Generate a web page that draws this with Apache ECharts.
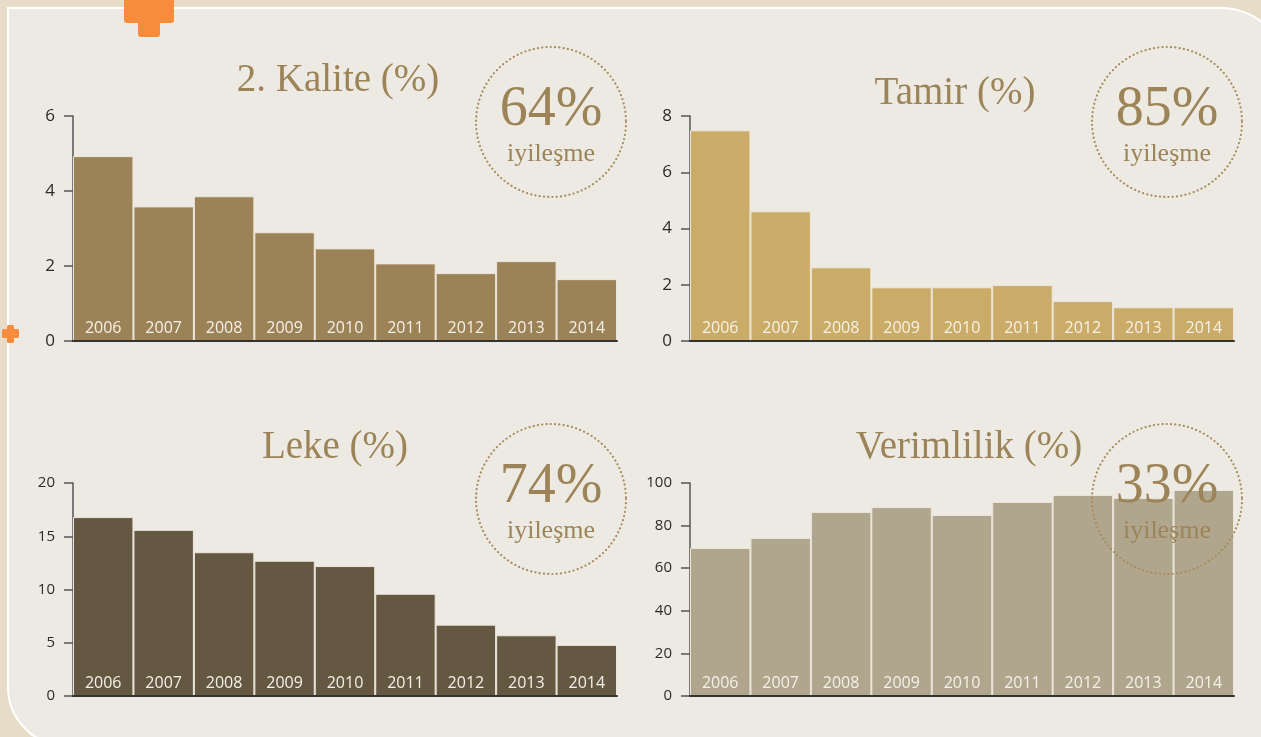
<!DOCTYPE html>
<html>
<head>
<meta charset="utf-8">
<script src="https://cdn.jsdelivr.net/npm/echarts@6/dist/echarts.min.js"></script>
<style>
  html, body { margin: 0; padding: 0; width: 1261px; height: 737px; overflow: hidden; background: #e6dcc8; }
  #panel {
    position: absolute; left: 7px; top: 7px; width: 1283px; height: 740px;
    background: #edeae3; border: 2px solid #ffffff; box-sizing: border-box;
    border-top-right-radius: 70px; border-bottom-left-radius: 60px;
  }
  #chart { position: absolute; left: 0; top: 0; width: 1261px; height: 737px; }
</style>
</head>
<body>
<div id="panel"></div>
<div id="chart"></div>
<script>
var years = ['2006', '2007', '2008', '2009', '2010', '2011', '2012', '2013', '2014'];

var kalite = [4.93, 3.59, 3.86, 2.90, 2.47, 2.07, 1.81, 2.13, 1.65];
var tamir = [7.49, 4.61, 2.62, 1.91, 1.91, 1.99, 1.42, 1.20, 1.20];
var leke = [16.8, 15.6, 13.5, 12.7, 12.2, 9.6, 6.7, 5.7, 4.8];
var verimlilik = [69.5, 74.2, 86.4, 88.7, 85.0, 91.1, 94.4, 93.0, 96.7];

var titles = ['2. Kalite (%)', 'Tamir (%)', 'Leke (%)', 'Verimlilik (%)'];
var improvements = ['64%', '85%', '74%', '33%'];
var improveWord = 'iyileşme';

var axisMax = [6, 8, 20, 100];
var axisStep = [2, 2, 5, 20];

var barColors = ['#9c8257', '#caac68', '#645842', '#b0a68d'];
var brown = '#9c8458';
var orange = '#f78c3c';

// layout of the four small charts
var panels = [
    { left: 73, top: 116, titleX: 338, titleY: 100, cx: 551, cy: 122, tickFont: 17 },
    { left: 690, top: 116, titleX: 955, titleY: 113, cx: 1167, cy: 122, tickFont: 17 },
    { left: 73, top: 483, titleX: 335, titleY: 467, cx: 551, cy: 499, tickFont: 15 },
    { left: 690, top: 483, titleX: 969, titleY: 467, cx: 1167, cy: 499, tickFont: 15 }
];
var gridWidth = 544;
var gridHeights = [225, 225, 213, 213];
var seriesData = [kalite, tamir, leke, verimlilik];

var chart = echarts.init(document.getElementById('chart'));

var grids = [], xAxes = [], yAxes = [], series = [], graphics = [];

panels.forEach(function (p, i) {
    grids.push({ left: p.left, top: p.top, width: gridWidth, height: gridHeights[i], containLabel: false });
    xAxes.push({
        type: 'category', gridIndex: i, data: years, z: 5,
        axisLine: { show: true, lineStyle: { color: '#333', width: 2 } },
        axisTick: { show: false }, axisLabel: { show: false }
    });
    yAxes.push({
        type: 'value', gridIndex: i, min: 0, max: axisMax[i], interval: axisStep[i],
        axisLine: { show: true, lineStyle: { color: '#555', width: 1.5 } },
        axisTick: { show: true, length: 9, lineStyle: { color: '#555', width: 1.5 } },
        splitLine: { show: false },
        axisLabel: { color: '#2b2b2b', fontSize: p.tickFont, fontFamily: 'Open Sans', margin: 18 }
    });
    series.push({
        type: 'bar', xAxisIndex: i, yAxisIndex: i, data: seriesData[i],
        barCategoryGap: '0%',
        itemStyle: { color: barColors[i], borderColor: '#ece6da', borderWidth: 1 },
        label: {
            show: true, position: 'insideBottom', distance: 5, formatter: '{b}',
            color: '#f5f1e8', fontSize: 16, fontFamily: 'Open Sans'
        },
        silent: true
    });
    graphics.push({
        type: 'text', x: p.titleX, y: p.titleY, z: 10,
        style: {
            text: titles[i], fill: brown, font: '39px "Liberation Serif"',
            textAlign: 'center', textVerticalAlign: 'bottom'
        }
    });
    graphics.push({
        type: 'circle', z: 10, shape: { cx: p.cx, cy: p.cy, r: 75 },
        style: { fill: 'none', stroke: '#a88c60', lineWidth: 2.2, lineDash: [0.1, 4.2], lineCap: 'round' }
    });
    graphics.push({
        type: 'text', x: p.cx, y: p.cy + 16, z: 10,
        style: {
            text: improvements[i], fill: brown, font: '56px "Liberation Serif"',
            textAlign: 'center', textVerticalAlign: 'bottom'
        }
    });
    graphics.push({
        type: 'text', x: p.cx, y: p.cy + 45, z: 10,
        style: {
            text: improveWord, fill: brown, font: '26px "Liberation Serif"',
            textAlign: 'center', textVerticalAlign: 'bottom'
        }
    });
});

// orange plus marks
graphics.push({ type: 'rect', z: 10, shape: { x: 124, y: -6, width: 50, height: 29, r: 3 }, style: { fill: orange } });
graphics.push({ type: 'rect', z: 10, shape: { x: 138, y: 0, width: 22, height: 37, r: 3 }, style: { fill: orange } });
graphics.push({ type: 'rect', z: 10, shape: { x: 2, y: 329, width: 17, height: 9, r: 1.5 }, style: { fill: orange } });
graphics.push({ type: 'rect', z: 10, shape: { x: 7, y: 325, width: 7, height: 18, r: 1.5 }, style: { fill: orange } });

chart.setOption({
    backgroundColor: 'transparent',
    animation: false,
    grid: grids,
    xAxis: xAxes,
    yAxis: yAxes,
    series: series,
    graphic: graphics
});
</script>
</body>
</html>
